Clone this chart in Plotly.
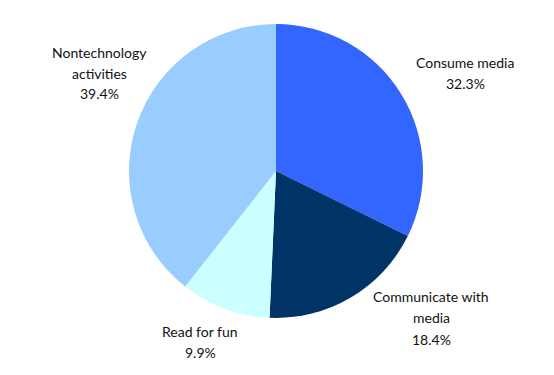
import plotly.graph_objects as go

categories = ["Consume media", "Communicate with media", "Read for fun", "Nontechnology activities"]
values = [32.3, 18.4, 9.9, 39.4]
colors = ["#3366FF", "#003366", "#CCFFFF", "#99CCFF"]
label_lines = [
    ["Consume media", "32.3%"],
    ["Communicate with", "media", "18.4%"],
    ["Read for fun", "9.9%"],
    ["Nontechnology", "activities", "39.4%"],
]

W, H = 554, 375
# label line centres in pixels (x, [y per line])
label_pos = [
    (465, [62, 84]),
    (431, [296, 317, 339]),
    (200, [331, 352]),
    (99, [53, 73, 94]),
]

fig = go.Figure(go.Pie(
    labels=categories,
    values=values,
    marker=dict(colors=colors, line=dict(width=0)),
    sort=False,
    direction="clockwise",
    rotation=0,
    textinfo="none",
    hoverinfo="label+percent",
    showlegend=False,
    domain=dict(x=[129 / W, 423 / W], y=[(H - 318) / H, (H - 24) / H]),
))

for lines, (px, pys) in zip(label_lines, label_pos):
    for text, py in zip(lines, pys):
        fig.add_annotation(
            x=px / W, y=1 - py / H, xref="paper", yref="paper",
            text=text, showarrow=False, xanchor="center", yanchor="middle",
            font=dict(family="Lato, 'Open Sans', sans-serif", size=14, color="#111111"),
        )

fig.update_layout(
    width=W, height=H,
    margin=dict(l=0, r=0, t=0, b=0),
    paper_bgcolor="white",
    plot_bgcolor="white",
)

fig.write_html("out.html", config={"displayModeBar": False},
               post_script="document.body.style.margin='0';")
